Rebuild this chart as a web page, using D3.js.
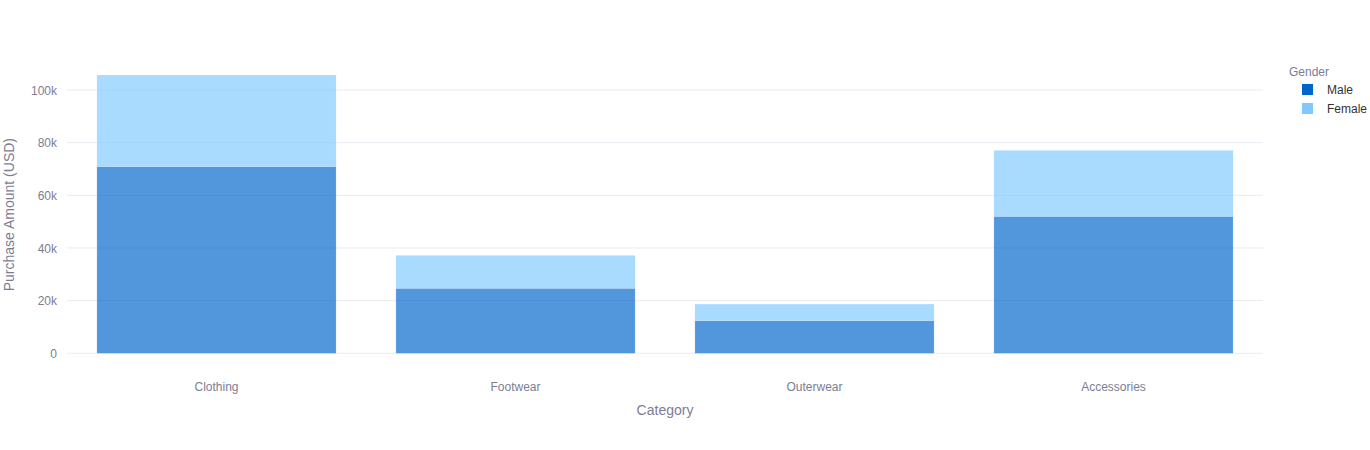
<!DOCTYPE html>
<html>
<head>
<meta charset="utf-8">
<script src="https://cdn.jsdelivr.net/npm/d3@7"></script>
<style>
  html, body { margin: 0; padding: 0; background: #fff; }
  svg { display: block; font-family: "Liberation Sans", Arial, sans-serif; }
</style>
</head>
<body>
<svg id="chart" width="1370" height="450"></svg>
<script>
const categories = ["Clothing", "Footwear", "Outerwear", "Accessories"];
const genders = ["Male", "Female"];
const maleValues = [70900, 24700, 12400, 52000];
const femaleValues = [34800, 12500, 6300, 25100];
const yTicks = [0, 20000, 40000, 60000, 80000, 100000];
const yTickLabels = ["0", "20k", "40k", "60k", "80k", "100k"];
const colors = { Male: "#0066cc", Female: "#80c8ff" };

const svg = d3.select("#chart");
const margin = { left: 67, right: 107, top: 48, bottom: 97 };
const W = 1370, H = 450;
const plotW = W - margin.left - margin.right;

const x = d3.scaleBand().domain(categories).range([margin.left, margin.left + plotW]).paddingInner(0.2).paddingOuter(0.1);
const y = d3.scaleLinear().domain([0, 111300]).range([353.3, 353.3 - 111300 * 263.3 / 100000]);

// gridlines
svg.append("g").selectAll("line").data(yTicks).join("line")
  .attr("x1", margin.left).attr("x2", margin.left + plotW)
  .attr("y1", d => y(d)).attr("y2", d => y(d))
  .attr("stroke", "#ebebf2").attr("stroke-width", 1);

// y axis
const yAxis = d3.axisLeft(y).tickValues(yTicks).tickFormat((d, i) => yTickLabels[i]).tickSize(0).tickPadding(10);
const gy = svg.append("g").attr("transform", `translate(${margin.left},0)`).call(yAxis);
gy.select(".domain").remove();
gy.selectAll("text").attr("fill", "#7d7d92").style("font-size", "12px").attr("dy", "0.35em");

// x axis
const xAxis = d3.axisBottom(x).tickSize(0).tickPadding(29);
const gx = svg.append("g").attr("transform", `translate(0,353.3)`).call(xAxis);
gx.select(".domain").remove();
gx.selectAll("text").attr("fill", "#7d7d92").style("font-size", "12px");

// stacked data
const rows = categories.map((c, i) => ({ category: c, Male: maleValues[i], Female: femaleValues[i] }));
const stack = d3.stack().keys(genders)(rows);

svg.append("g").selectAll("g").data(stack).join("g")
  .attr("fill", d => colors[d.key])
  .attr("fill-opacity", 0.68)
  .selectAll("rect").data(d => d).join("rect")
  .attr("x", d => x(d.data.category))
  .attr("width", x.bandwidth())
  .attr("y", d => y(d[1]))
  .attr("height", d => y(d[0]) - y(d[1]))
  .attr("stroke", "#ffffff").attr("stroke-opacity", 0.35).attr("stroke-width", 0.5);

// axis titles
svg.append("text").attr("x", margin.left + plotW / 2).attr("y", 415)
  .attr("text-anchor", "middle").attr("fill", "#7d7d92").style("font-size", "14px").text("Category");
svg.append("text").attr("transform", `translate(14,${(353.3 + 48) / 2 + 14}) rotate(-90)`)
  .attr("text-anchor", "middle").attr("fill", "#7d7d92").style("font-size", "14px").text("Purchase Amount (USD)");

// legend
const lg = svg.append("g");
lg.append("text").attr("x", 1289).attr("y", 76).attr("fill", "#7d7d92").style("font-size", "12px").text("Gender");
const items = lg.selectAll("g.item").data(genders).join("g").attr("class", "item")
  .attr("transform", (d, i) => `translate(1302,${84 + i * 19})`);
items.append("rect").attr("width", 11).attr("height", 11).attr("fill", d => colors[d]);
items.append("text").attr("x", 25).attr("y", 10).attr("fill", "#333").style("font-size", "12px").text(d => d);
</script>
</body>
</html>
